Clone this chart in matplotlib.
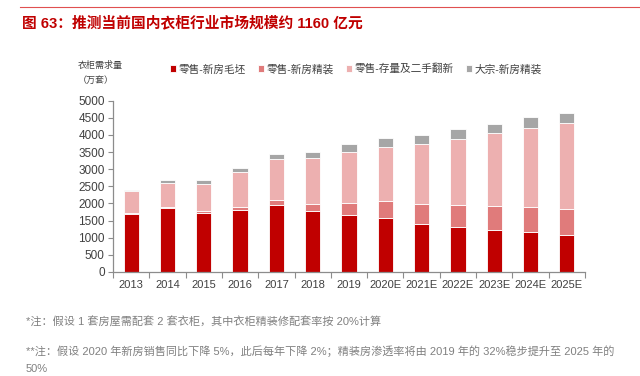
import numpy as np
import matplotlib
matplotlib.use("Agg")
import matplotlib.pyplot as plt
from matplotlib.lines import Line2D

plt.rcParams["font.family"] = ["Liberation Sans", "Noto Sans CJK SC", "DejaVu Sans"]

years = ["2013", "2014", "2015", "2016", "2017", "2018", "2019",
         "2020E", "2021E", "2022E", "2023E", "2024E", "2025E"]
retail_rough = [1690, 1860, 1720, 1820, 1965, 1780, 1655, 1585, 1410, 1305, 1215, 1160, 1090]
retail_fine = [20, 30, 60, 80, 135, 215, 370, 485, 585, 640, 700, 730, 750]
retail_stock = [655, 720, 800, 1010, 1190, 1335, 1480, 1585, 1750, 1935, 2130, 2325, 2520]
bulk_fine = [30, 60, 95, 125, 145, 185, 225, 255, 265, 285, 290, 300, 290]

series = [
    ("零售-新房毛坯", retail_rough, "#C00000"),
    ("零售-新房精装", retail_fine, "#E07B7B"),
    ("零售-存量及二手翻新", retail_stock, "#EDB0B0"),
    ("大宗-新房精装", bulk_fine, "#A6A6A6"),
]

fig = plt.figure(figsize=(6.4, 3.76), dpi=100)
ax = fig.add_axes([0.1766, 0.277, 0.7374, 0.455])

x = np.arange(len(years))
bottom = np.zeros(len(years))
handles = []
for name, vals, color in series:
    b = ax.bar(x, vals, 0.42, bottom=bottom, color=color, edgecolor="white",
               linewidth=0.6, label=name)
    handles.append(b)
    bottom += np.array(vals)

ax.set_xlim(-0.5, len(years) - 0.5)
ax.set_ylim(0, 5000)
ax.set_yticks(np.arange(0, 5001, 500))
ax.set_xticks(x)
ax.set_xticklabels(years)
ax.set_xticks(np.arange(-0.5, len(years), 1), minor=True)
ax.tick_params(axis="x", which="major", length=0, pad=6, labelsize=8, colors="#404040")
ax.tick_params(axis="x", which="minor", length=4, color="#8c8c8c", width=0.8)
ax.tick_params(axis="y", length=3.5, width=0.8, color="#8c8c8c", pad=2.5,
               labelsize=8.5, labelcolor="#404040")
for s in ["top", "right"]:
    ax.spines[s].set_visible(False)
for s in ["bottom", "left"]:
    ax.spines[s].set_color("#8c8c8c")
    ax.spines[s].set_linewidth(0.9)

ax.legend(handles=handles, loc="center left", bbox_to_anchor=(0.25, 0.816),
          bbox_transform=fig.transFigure, ncol=4, frameon=False, fontsize=7.7,
          handlelength=0.6, handleheight=0.6, handletextpad=0.25, columnspacing=1.1,
          labelcolor="#404040")

fig.text(0.122, 0.827, "衣柜需求量", fontsize=6.5, color="#404040", va="center")
fig.text(0.122, 0.787, "（万套）", fontsize=6.5, color="#404040", va="center")

fig.add_artist(Line2D([0.032, 1.0], [0.981, 0.981], color="#E05050", linewidth=0.8))
fig.text(0.034, 0.94, "图 63：推测当前国内衣柜行业市场规模约 1160 亿元", fontsize=10.6,
         fontweight="bold", color="#C00000", va="center")

fig.text(0.04, 0.143, "*注：假设 1 套房屋需配套 2 套衣柜，其中衣柜精装修配套率按 20%计算",
         fontsize=8, color="#808080", va="center")
fig.text(0.04, 0.066,
         "**注：假设 2020 年新房销售同比下降 5%，此后每年下降 2%；精装房渗透率将由 2019 年的 32%稳步提升至 2025 年的",
         fontsize=8, color="#808080", va="center")
fig.text(0.04, 0.018, "50%", fontsize=8, color="#808080", va="center")

fig.savefig("out.png", dpi=100)
